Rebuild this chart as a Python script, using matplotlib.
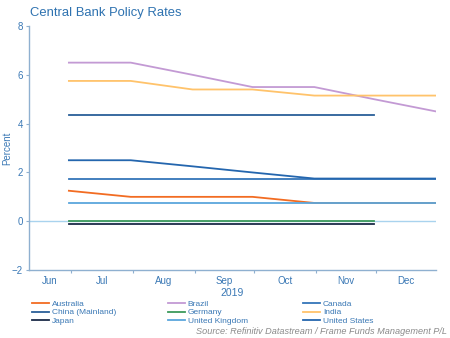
import matplotlib.pyplot as plt
import matplotlib.dates as mdates
import datetime as dt

plt.rcParams['font.family'] = ['Liberation Sans', 'DejaVu Sans']

# month-end observations, Jun-Dec 2019
dates = [dt.date(2019, 6, 30), dt.date(2019, 7, 31), dt.date(2019, 8, 31),
         dt.date(2019, 9, 30), dt.date(2019, 10, 31), dt.date(2019, 11, 30),
         dt.date(2019, 12, 31)]

australia = [1.25, 1.00, 1.00, 1.00, 0.75, 0.75, 0.75]
brazil = [6.50, 6.50, 6.00, 5.50, 5.50, 5.00, 4.50]
canada = [1.75, 1.75, 1.75, 1.75, 1.75, 1.75, 1.75]
china = [4.35, 4.35, 4.35, 4.35, 4.35, 4.35]
germany = [0.0, 0.0, 0.0, 0.0, 0.0, 0.0]
india = [5.75, 5.75, 5.40, 5.40, 5.15, 5.15, 5.15]
japan = [-0.10, -0.10, -0.10, -0.10, -0.10, -0.10]
uk = [0.75, 0.75, 0.75, 0.75, 0.75, 0.75, 0.75]
us = [2.50, 2.50, 2.25, 2.00, 1.75, 1.75, 1.75]

months = ["Jun", "Jul", "Aug", "Sep", "Oct", "Nov", "Dec"]

blue_txt = "#3a78b5"
axis_col = "#8fb0d0"

fig = plt.figure(figsize=(4.5, 3.38), dpi=100)
ax = fig.add_axes([0.0644, 0.201, 0.9046, 0.722])

ax.axhline(0, color="#a9d3ee", lw=1.0, zorder=1)

series = [
    ("Australia", australia, "#f26c22"),
    ("Brazil", brazil, "#c39ad4"),
    ("Canada", canada, "#3475b9"),
    ("China (Mainland)", china, "#2a5f98"),
    ("Germany", germany, "#3c9a5c"),
    ("India", india, "#ffc36b"),
    ("Japan", japan, "#1b2b48"),
    ("United Kingdom", uk, "#5aa6dc"),
    ("United States", us, "#2466ae"),
]
lines = []
for name, vals, col in series:
    ln, = ax.plot(dates[:len(vals)], vals, color=col, lw=1.3, label=name, zorder=2)
    lines.append(ln)

ax.set_ylim(-2, 8)
ax.set_yticks([-2, 0, 2, 4, 6, 8])
ax.set_xlim(dt.date(2019, 6, 10), dt.date(2019, 12, 31))

# month boundaries get tick marks, month names sit in between
starts = [dt.date(2019, m, 1) for m in range(7, 13)]
ax.set_xticks(starts)
ax.xaxis.set_major_formatter(plt.NullFormatter())
edges = [mdates.date2num(dt.date(2019, 6, 10))] + [mdates.date2num(d) for d in starts] \
    + [mdates.date2num(dt.date(2019, 12, 31))]
mids = [(edges[i] + edges[i + 1]) / 2 for i in range(len(edges) - 1)]
ax.set_xticks(mids, minor=True)
ax.set_xticklabels(months, minor=True)
ax.tick_params(axis="x", which="minor", length=0, pad=4, labelsize=7, labelcolor=blue_txt)
ax.tick_params(axis="x", which="major", length=2.5, color=axis_col, width=0.8)
ax.tick_params(axis="y", length=2.5, color=axis_col, width=0.8, labelsize=7,
               labelcolor=blue_txt, pad=2)

for s in ["top", "right"]:
    ax.spines[s].set_visible(False)
for s in ["left", "bottom"]:
    ax.spines[s].set_color(axis_col)
    ax.spines[s].set_linewidth(1.0)

ax.set_xlabel("2019", fontsize=7.5, color=blue_txt, labelpad=2)
ax.set_ylabel("Percent", fontsize=7, color=blue_txt)
ax.yaxis.set_label_coords(-0.04, 0.5)

fig.text(0.066, 0.962, "Central Bank Policy Rates", fontsize=9.4, color="#2e72b0",
         ha="left", va="center")

# legend laid out row by row, three columns
col_x = [0.071, 0.373, 0.673]
for i, x in enumerate(col_x):
    hs = lines[i::3]
    fig.legend(hs, [h.get_label() for h in hs], loc="upper left",
               bbox_to_anchor=(x, 0.113), ncol=1, frameon=False, fontsize=6,
               labelcolor=blue_txt, handlelength=2.0, handletextpad=0.4,
               labelspacing=0.12, borderpad=0, borderaxespad=0)

fig.text(0.994, 0.018, "Source: Refinitiv Datastream / Frame Funds Management P/L",
         fontsize=6.6, style="italic", color="#8a8a8a", ha="right", va="center")

fig.savefig("out.png", dpi=100)
